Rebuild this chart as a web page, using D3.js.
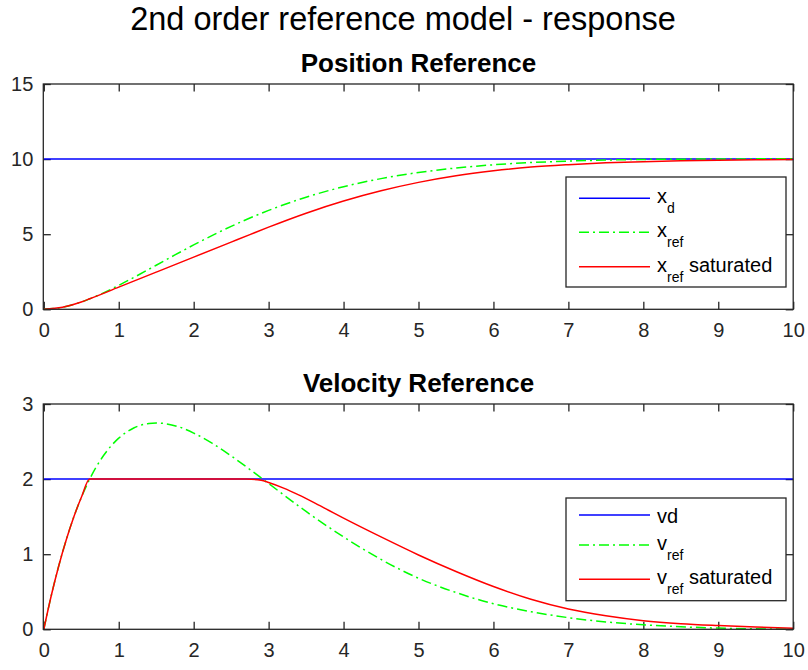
<!DOCTYPE html>
<html><head><meta charset="utf-8">
<script src="https://cdn.jsdelivr.net/npm/d3@7"></script>
<style>
body{margin:0;background:#fff}
svg{display:block}
text{font-family:"Liberation Sans",Arial,Helvetica,sans-serif;fill:#262626}
</style>
</head><body>
<svg id="c" width="808" height="670"></svg>
<script>
// ---------- data ----------
const timeTicks = [0,1,2,3,4,5,6,7,8,9,10];
const posTicks = [0,5,10,15];
const velTicks = [0,1,2,3];

const tXd = [0,10];
const xdVals = [10,10];

const tXref = [0,0.25,0.5,0.75,1,1.25,1.5,1.75,2,2.25,2.5,2.75,3,3.5,4,4.5,5,5.5,6,6.5,7,7.5,8,8.5,9,9.5,10];
const xRef  = [0,0.135,0.487,0.991,1.594,2.252,2.934,3.619,4.286,4.922,5.521,6.076,6.584,7.463,8.161,8.700,9.107,9.406,9.620,9.769,9.870,9.936,9.978,9.996,10.01,10.015,10.02];

const tXsat = [0,0.25,0.5,0.613,1,1.5,2,2.5,2.75,3,3.5,4,4.5,5,5.5,6,6.5,7,7.5,8,8.5,9,9.5,10];
const xSat  = [0,0.135,0.487,0.70,1.474,2.474,3.474,4.474,4.974,5.47,6.40,7.21,7.89,8.45,8.89,9.22,9.47,9.63,9.75,9.83,9.89,9.93,9.96,9.98];

const tVd = [0,10];
const vdVals = [2,2];

const tVref = [0,0.1,0.2,0.3,0.4,0.5,0.6,0.8,1,1.2,1.4,1.5,1.6,1.8,2,2.25,2.5,2.75,3,3.5,4,4.5,5,5.5,6,6.5,7,7.5,8,8.5,9,9.5,10];
const vRef  = [0,0.45,0.847,1.193,1.495,1.754,1.975,2.317,2.545,2.68,2.741,2.748,2.741,2.696,2.613,2.475,2.309,2.128,1.941,1.569,1.23,0.93,0.68,0.49,0.34,0.235,0.155,0.098,0.06,0.034,0.016,0.006,0];

const tVsat = [0,0.1,0.2,0.3,0.4,0.5,0.613,1,1.5,2,2.5,2.7,2.9,3.0,3.2,3.4,3.6,3.8,4,4.5,5,5.5,6,6.5,7,7.5,8,8.5,9,9.5,10];
const vSat  = [0,0.45,0.847,1.193,1.495,1.754,2,2,2,2,2,2,1.985,1.955,1.88,1.79,1.69,1.585,1.48,1.23,0.99,0.77,0.57,0.40,0.27,0.18,0.115,0.075,0.05,0.03,0.015];

const topLegend = ["x|d", "x|ref", "x|ref| saturated"];
const botLegend = ["vd", "v|ref", "v|ref| saturated"];

// ---------- drawing ----------
const svg = d3.select("#c");
const AX = "#262626";
const X0 = 43.8, X1 = 793.2;
const DASH = "10,4,2,4";

svg.append("text").attr("x",403).attr("y",30).attr("text-anchor","middle")
  .style("font-size","32.5px").style("fill","#000").text("2nd order reference model - response");

function panel(cfg){
  const x = d3.scaleLinear().domain([0,10]).range([X0,X1]);
  const y = d3.scaleLinear().domain(cfg.ydom).range([cfg.bottom, cfg.top]);
  const g = svg.append("g");
  const tk = 7.5;
  g.append("g").attr("transform",`translate(0,${cfg.top})`)
    .call(d3.axisTop(x).tickValues(timeTicks).tickSize(-tk).tickSizeOuter(0).tickFormat(""));
  g.append("g").attr("transform",`translate(${X1},0)`)
    .call(d3.axisRight(y).tickValues(cfg.yticks).tickSize(-tk).tickSizeOuter(0).tickFormat(""));
  g.append("g").attr("transform",`translate(0,${cfg.bottom})`)
    .call(d3.axisBottom(x).tickValues(timeTicks).tickSize(-tk).tickSizeOuter(0).tickPadding(13.5).tickFormat(d3.format("d")));
  g.append("g").attr("transform",`translate(${X0 - 0.5},0)`)
    .call(d3.axisLeft(y).tickValues(cfg.yticks).tickSize(-tk).tickSizeOuter(0).tickPadding(10).tickFormat(d3.format("d")));
  g.selectAll(".domain").remove();
  g.selectAll(".tick line").attr("stroke",AX).attr("stroke-width",1.3);
  g.selectAll(".tick text").style("font-size","20px").style("fill",AX).attr("fill",AX);

  const clipId = "clip"+cfg.id;
  svg.append("clipPath").attr("id",clipId).append("rect")
    .attr("x",X0-1).attr("y",cfg.top-1).attr("width",X1-X0+2).attr("height",cfg.bottom-cfg.top+2);
  const lg = svg.append("g").attr("clip-path",`url(#${clipId})`);
  const line = d3.line().x(d=>x(d[0])).y(d=>y(d[1])).curve(d3.curveMonotoneX);
  cfg.series.forEach(s=>{
    lg.append("path").datum(d3.zip(s.t, s.v)).attr("d",line)
      .attr("fill","none").attr("stroke",s.color).attr("stroke-width",1.5)
      .attr("stroke-dasharray",s.dash||null);
  });
  svg.append("rect").attr("x",X0-0.5).attr("y",cfg.top).attr("width",X1-X0+0.5).attr("height",cfg.bottom-cfg.top)
    .attr("fill","none").attr("stroke",AX).attr("stroke-width",1.3);

  svg.append("text").attr("x",(X0+X1)/2).attr("y",cfg.top-12).attr("text-anchor","middle")
    .style("font-size","26px").style("font-weight","bold").style("fill","#000").text(cfg.title);

  const L = cfg.legend;
  svg.append("rect").attr("x",L.x).attr("y",L.y).attr("width",L.w).attr("height",L.h)
    .attr("fill","#fff").attr("stroke",AX).attr("stroke-width",1.3);
  cfg.series.forEach((s,i)=>{
    const ly = L.rows[i];
    svg.append("line").attr("x1",L.x+13).attr("x2",L.x+84).attr("y1",ly).attr("y2",ly)
      .attr("stroke",s.color).attr("stroke-width",1.5).attr("stroke-dasharray",s.dash||null);
    const parts = L.labels[i].split("|");
    const t = svg.append("text").attr("x",L.x+91).style("font-size","20px").style("fill","#000");
    if(parts.length===1){
      t.attr("y",ly+8).text(parts[0]);
    } else {
      t.attr("y",ly+5);
      t.append("tspan").text(parts[0]);
      t.append("tspan").attr("dy",10).style("font-size","14px").text(parts[1]);
      if(parts[2]) t.append("tspan").attr("dy",-10).style("font-size","20px").text(parts[2]);
    }
  });
}

panel({
  id:"p", title:"Position Reference", ydom:[0,15], yticks:posTicks, top:84, bottom:309.3,
  series:[
    {t:tXd, v:xdVals, color:"#0000ff"},
    {t:tXref, v:xRef, color:"#00ff00", dash:DASH},
    {t:tXsat, v:xSat, color:"#ff0000"}
  ],
  legend:{x:566, y:177, w:220, h:110, rows:[198.3,232.3,266.7], labels:topLegend}
});

panel({
  id:"v", title:"Velocity Reference", ydom:[0,3], yticks:velTicks, top:404, bottom:629.3,
  series:[
    {t:tVd, v:vdVals, color:"#0000ff"},
    {t:tVref, v:vRef, color:"#00ff00", dash:DASH},
    {t:tVsat, v:vSat, color:"#ff0000"}
  ],
  legend:{x:566, y:498, w:220, h:102.7, rows:[515,545,579.3], labels:botLegend}
});
</script>
</body></html>
